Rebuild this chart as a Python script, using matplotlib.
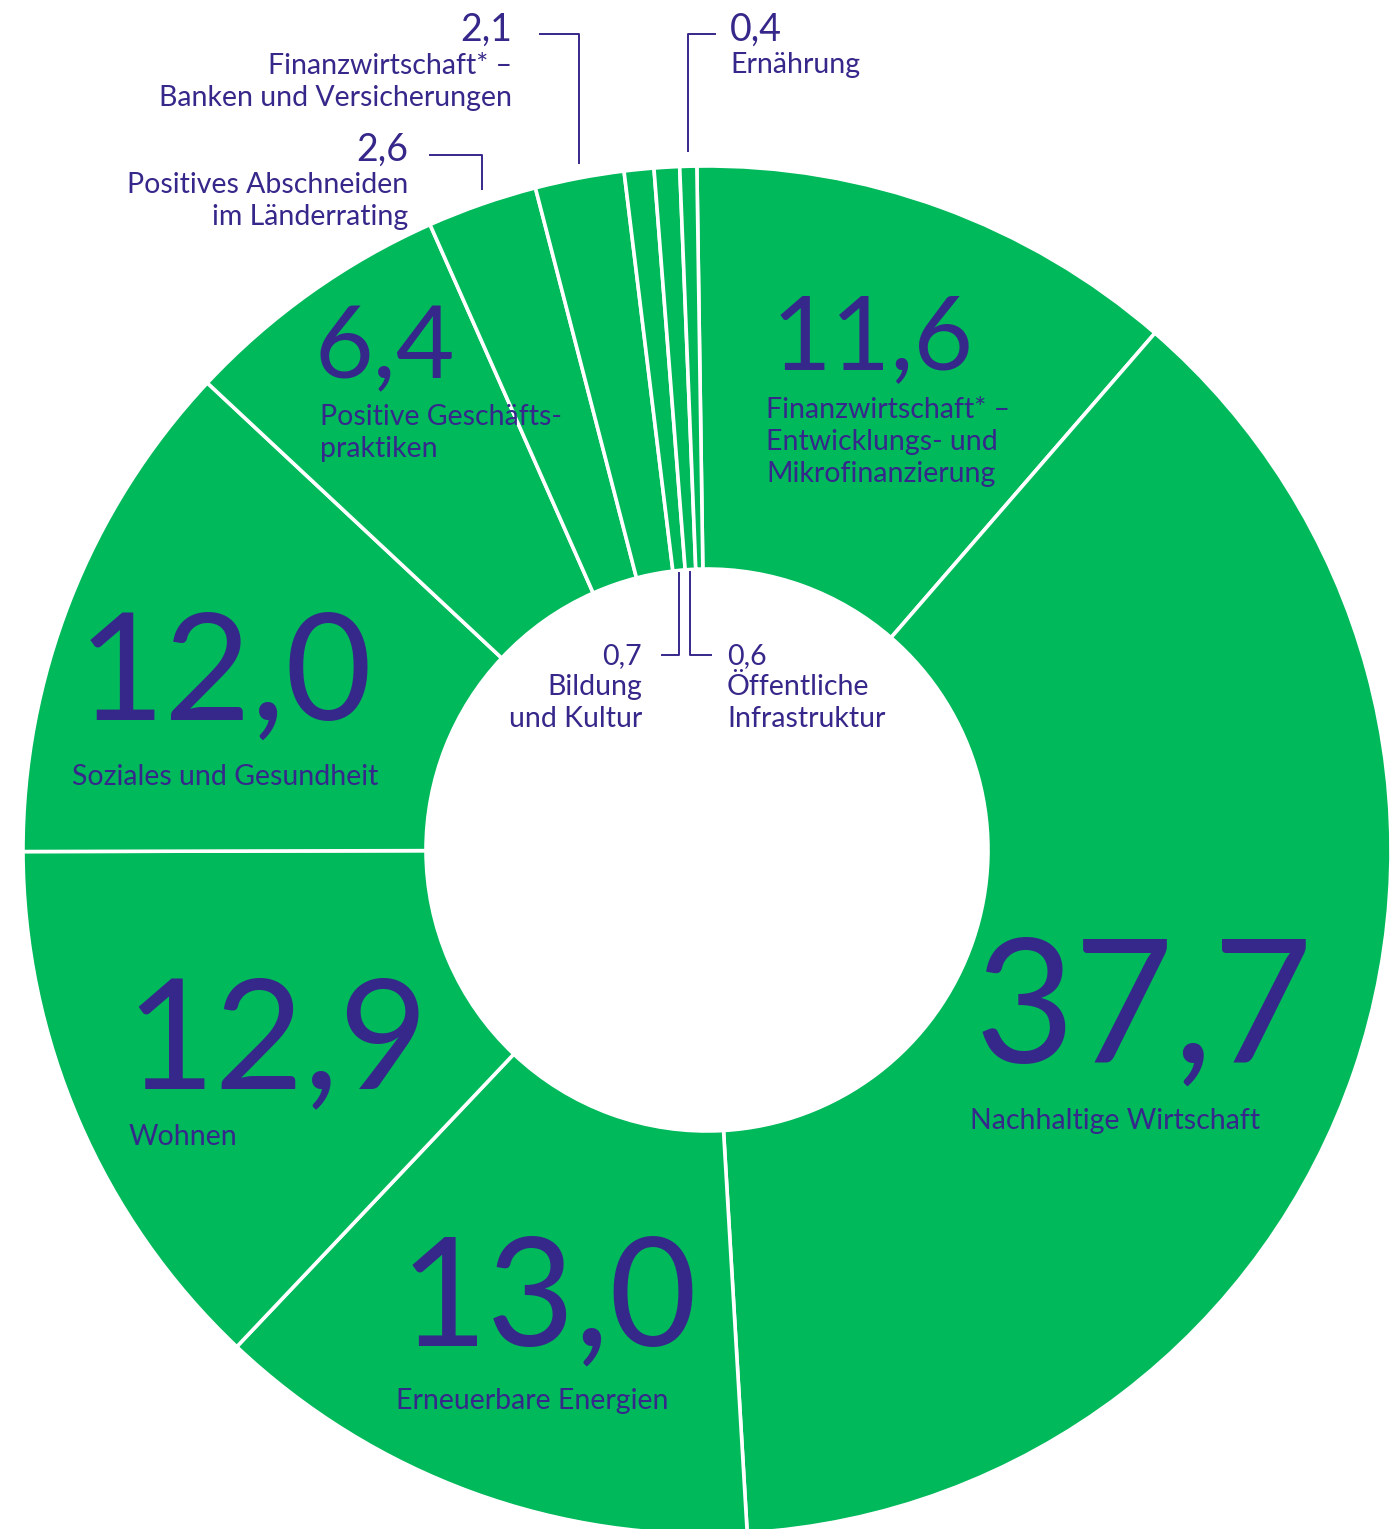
import numpy as np
import matplotlib.pyplot as plt

# Anteile in Prozent, im Uhrzeigersinn ab 12 Uhr
categories = [
    "Finanzwirtschaft* –\nEntwicklungs- und\nMikrofinanzierung",
    "Nachhaltige Wirtschaft",
    "Erneuerbare Energien",
    "Wohnen",
    "Soziales und Gesundheit",
    "Positive Geschäfts-\npraktiken",
    "Positives Abschneiden\nim Länderrating",
    "Finanzwirtschaft* –\nBanken und Versicherungen",
    "Bildung\nund Kultur",
    "Öffentliche\nInfrastruktur",
    "Ernährung",
]
values = [11.6, 37.7, 13.0, 12.9, 12.0, 6.4, 2.6, 2.1, 0.7, 0.6, 0.4]
value_labels = ["11,6", "37,7", "13,0", "12,9", "12,0", "6,4", "2,6", "2,1", "0,7", "0,6", "0,4"]

GREEN = "#00B95B"
PURPLE = "#35288A"
W, H = 1399, 1529
CX, CY = 707, 850          # Mittelpunkt in Pixeln (y von oben)
R_OUT, R_IN = 684, 281
START = 90.85


def Y(y):
    return H - y


fig = plt.figure(figsize=(W / 100, H / 100), dpi=100)
ax = fig.add_axes([0, 0, 1, 1])
ax.pie(values, radius=R_OUT, center=(CX, Y(CY)), startangle=START,
       counterclock=False, colors=[GREEN] * len(values),
       wedgeprops=dict(width=R_OUT - R_IN, edgecolor="white", linewidth=2.6))
ax.set_xlim(0, W)
ax.set_ylim(0, H)
ax.set_aspect("auto")
ax.axis("off")

# Mittelwinkel jedes Segments (Grad im Uhrzeigersinn ab 12 Uhr)
cum = np.cumsum([0] + values)
mid_cw = (cum[:-1] + cum[1:]) / 2 / 100 * 360 - (START - 90)


def anchor_x(i, r):
    return CX + r * np.sin(np.radians(mid_cw[i]))


FONT = ["Lato", "DejaVu Sans"]


def put(x, y, s, size, ha="left"):
    ax.text(x, Y(y), s, fontsize=size, color=PURPLE, ha=ha, va="baseline",
            family=FONT)


def put_lines(x, y0, s, size, step, ha="left"):
    for k, line in enumerate(s.split("\n")):
        put(x, y0 + k * step, line, size, ha)


TXT = 20.5

# grosse Segmente: Zahl + Beschriftung im Ring
big = {
    0: (772, 369, 74, 766, 418),
    1: (975, 1063, 124, 970, 1129),
    2: (400, 1345, 109, 396, 1409),
    3: (125, 1088, 111, 129, 1145),
    4: (78, 720, 108, 72, 785),
    5: (315, 378, 73, 320, 425),
}
for i, (nx, ny, ns, lx, ly) in big.items():
    put(nx, ny, value_labels[i], ns)
    put_lines(lx, ly, categories[i], TXT, 32)

# kleine Segmente oben mit Fuehrungslinien
lw = 1.4


def top_leader(i, x_end, y_h):
    xv = anchor_x(i, R_OUT)
    y_end = CY - np.sqrt(R_OUT**2 - (xv - CX)**2) - 15
    ax.plot([x_end, xv, xv], [Y(y_h), Y(y_h), Y(y_end)], color=PURPLE, lw=lw)


def inner_leader(i, x_end, y_h):
    xv = anchor_x(i, R_IN)
    y_start = CY - np.sqrt(R_IN**2 - (xv - CX)**2) + 3
    ax.plot([xv, xv, x_end], [Y(y_start), Y(y_h), Y(y_h)], color=PURPLE, lw=lw)


# 2,6
put(408, 161, value_labels[6], 27, "right")
put_lines(408, 193, categories[6], TXT, 32, "right")
top_leader(6, 430, 155)
# 2,1
put(512, 41, value_labels[7], 27, "right")
put_lines(512, 74, categories[7], TXT, 32, "right")
top_leader(7, 540, 34)
# 0,4
put(730, 41, value_labels[10], 27)
put_lines(730, 73, categories[10], TXT, 32)
top_leader(10, 715, 34)

# kleine Segmente innen
put(642, 664, value_labels[8], TXT, "right")
put_lines(642, 695, categories[8], TXT, 32, "right")
inner_leader(8, 662, 655)
put(727, 664, value_labels[9], TXT)
put_lines(727, 695, categories[9], TXT, 32)
inner_leader(9, 711, 655)

fig.savefig("out.png", dpi=100, facecolor="white")
